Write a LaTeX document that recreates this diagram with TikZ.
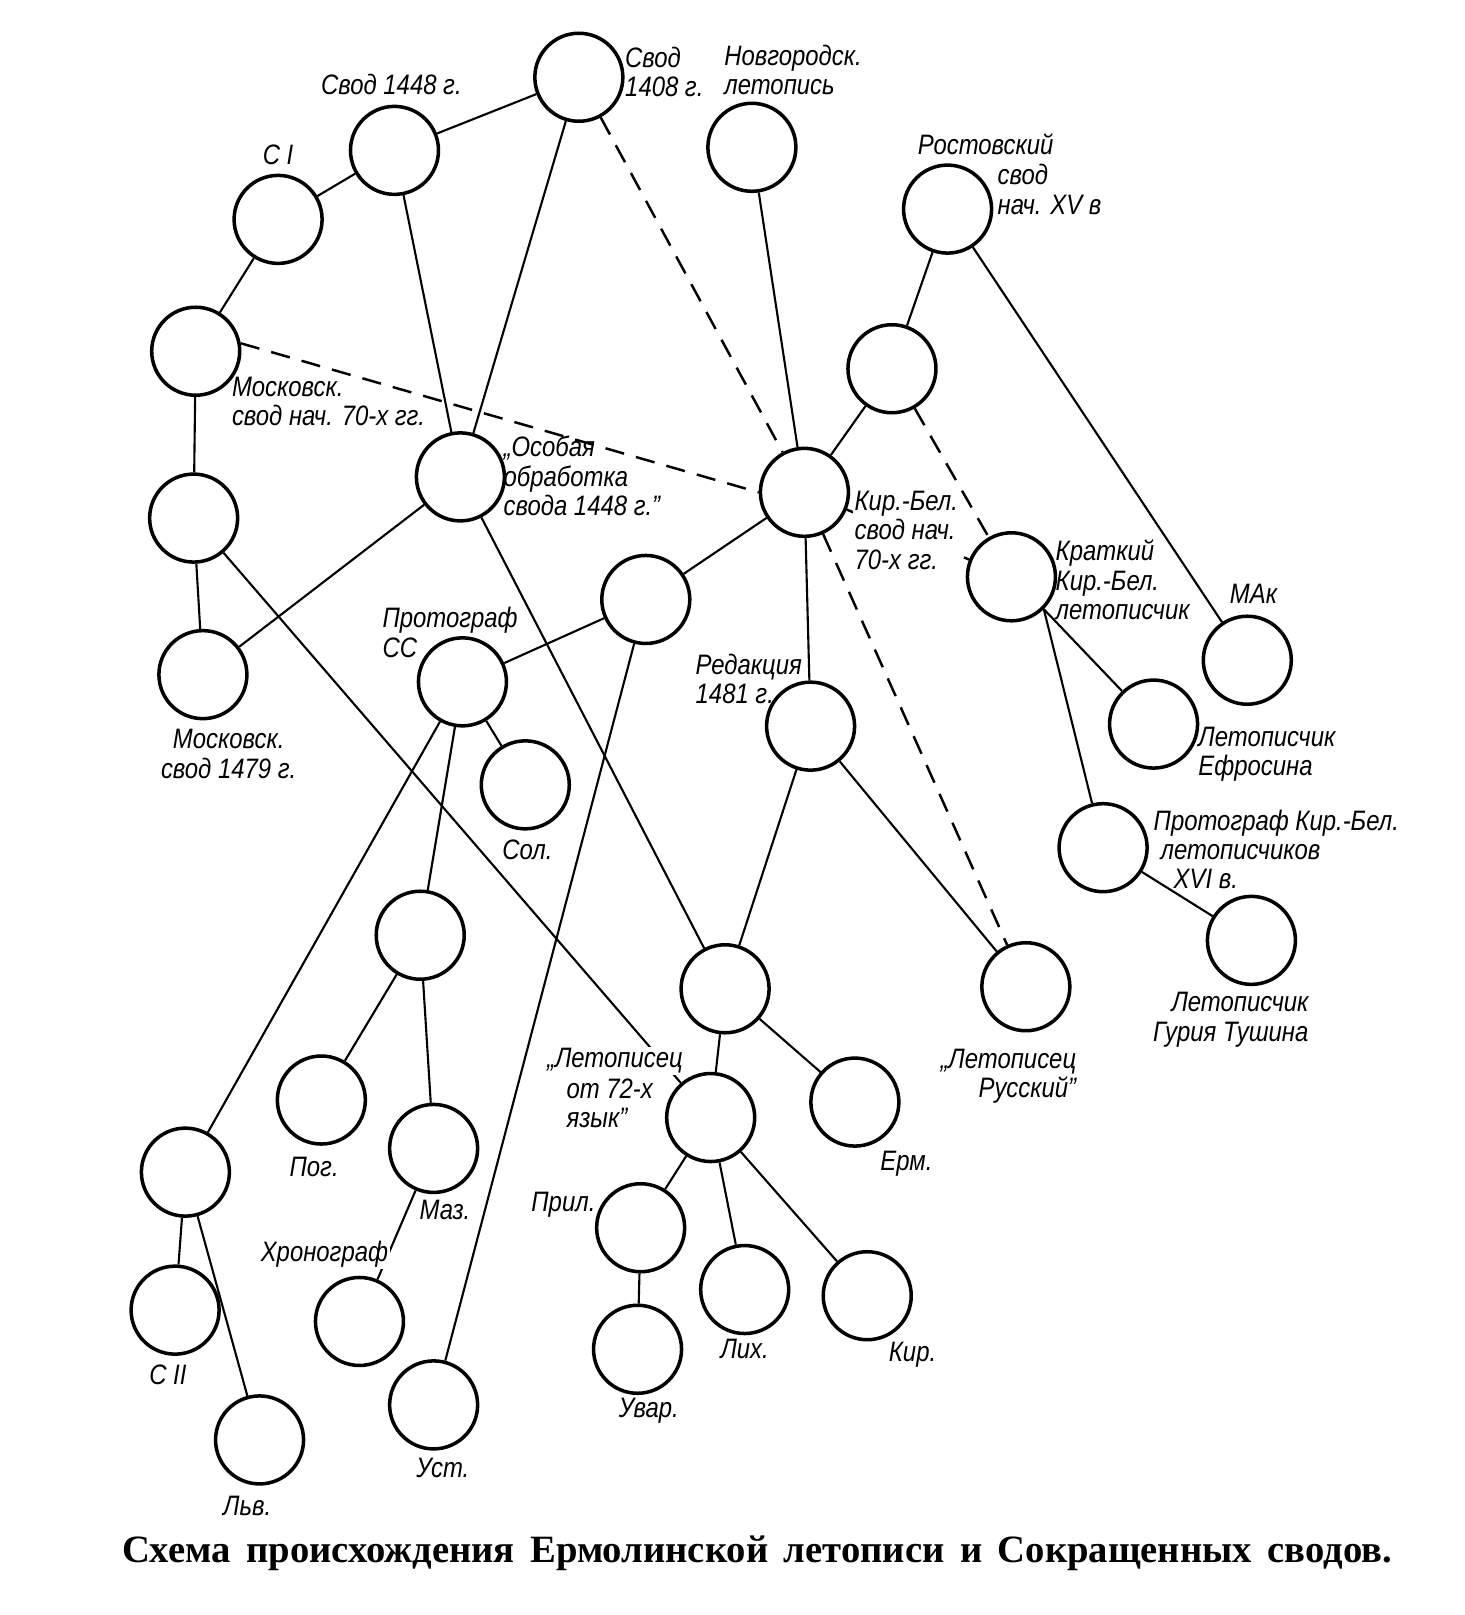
\documentclass[tikz,border=0pt]{standalone}
\usepackage{fontspec}
\setmainfont{Liberation Serif}
\newfontfamily\labfont[FakeStretch=0.85]{Liberation Sans}
\usetikzlibrary{backgrounds}

\tikzset{
    ms/.style={circle, draw, line width=1pt, minimum size=0.88cm, inner sep=0pt},
    lab/.style={font=\labfont\itshape\fontsize{8}{8.3}\selectfont, inner sep=1pt, align=left},
    cut/.style={fill=white, inner sep=0.5pt},
    ln/.style={line width=0.6pt},
    dashline/.style={line width=0.7pt, dash pattern=on 5.5pt off 3.5pt},
}

\begin{document}
\begin{tikzpicture}[x=0.0103cm, y=-0.0103cm]
    % white background
    \begin{scope}[on background layer]
        \fill [white] (0,0) rectangle (1422,1568);
    \end{scope}
    % manuscripts
    \node (s1408) [ms] at (562,75) {};
    \node (novg) [ms] at (730,143) {};
    \node (s1448) [ms] at (383,146) {};
    \node (c1) [ms] at (270,213) {};
    \node (rost) [ms] at (920,203) {};
    \node (m70) [ms] at (190,341) {};
    \node (rmid) [ms] at (866,358) {};
    \node (ma) [ms] at (188,503) {};
    \node (osob) [ms] at (447,463) {};
    \node (kb) [ms] at (781,478) {};
    \node (kr) [ms] at (982,560) {};
    \node (mid) [ms] at (627,582) {};
    \node (prot) [ms] at (449,662) {};
    \node (m79) [ms] at (197,655) {};
    \node (mak) [ms] at (1211,641) {};
    \node (red) [ms] at (787,705) {};
    \node (sol) [ms] at (510,762) {};
    \node (efr) [ms] at (1120,703) {};
    \node (pkb) [ms] at (1071,823) {};
    \node (mid2) [ms] at (408,908) {};
    \node (ep) [ms] at (704,960) {};
    \node (rus) [ms] at (996,958) {};
    \node (gur) [ms] at (1215,913) {};
    \node (pog) [ms] at (312,1068) {};
    \node (maz) [ms] at (421,1115) {};
    \node (l72) [ms] at (690,1085) {};
    \node (erm) [ms] at (830,1070) {};
    \node (cp) [ms] at (180,1138) {};
    \node (pril) [ms] at (622,1192) {};
    \node (lix) [ms] at (723,1252) {};
    \node (kir) [ms] at (842,1258) {};
    \node (xron) [ms] at (349,1283) {};
    \node (c2) [ms] at (170,1272) {};
    \node (uvar) [ms] at (619,1310) {};
    \node (ust) [ms] at (421,1364) {};
    \node (lvov) [ms] at (252,1398) {};
    % lines
    \draw[ln] (s1448) -- (s1408);
    \draw[ln] (s1408) -- (osob);
    \draw[dashline] (s1408) -- (kb);
    \draw[ln] (c1) -- (s1448);
    \draw[ln] (s1448) -- (osob);
    \draw[ln] (m70) -- (c1);
    \draw[ln] (m70) -- (ma);
    \draw[dashline] (m70.10) -- (kb.west);
    \draw[ln] (novg) -- (kb);
    \draw[ln] (rost) -- (rmid);
    \draw[ln] (rost) -- (mak);
    \draw[ln] (rmid) -- (kb);
    \draw[dashline] (rmid) -- (kr);
    \draw[dashline] (kb) -- (kr);
    \draw[ln] (kb) -- (mid);
    \draw[ln] (kb) -- (red);
    \draw[dashline] (kb) -- (rus);
    \draw[ln] (mid) -- (prot);
    \draw[ln] (mid) -- (ust);
    \draw[ln] (osob) -- (m79);
    \draw[ln] (osob) -- (ep);
    \draw[ln] (ma) -- (m79);
    \draw[ln] (ma) -- (l72);
    \draw[ln] (prot) -- (mid2);
    \draw[ln] (prot) -- (sol);
    \draw[ln] (prot) -- (cp);
    \draw[ln] (mid2) -- (pog);
    \draw[ln] (mid2) -- (maz);
    \draw[ln] (maz) -- (xron);
    \draw[ln] (red) -- (ep);
    \draw[ln] (red) -- (rus);
    \draw[ln] (ep) -- (l72);
    \draw[ln] (ep) -- (erm);
    \draw[ln] (l72) -- (pril);
    \draw[ln] (l72) -- (lix);
    \draw[ln] (l72) -- (kir);
    \draw[ln] (pril) -- (uvar);
    \draw[ln] (cp) -- (c2);
    \draw[ln] (cp) -- (lvov);
    \draw[ln] (kr.-45) -- (efr);
    \draw[ln] (kr.-45) -- (pkb);
    \draw[ln] (pkb) -- (gur);
    % labels
    \node (t1408) [lab] at (645,70) {Свод\\1408 г.};
    \node (tnovg) [lab] at (770,68) {Новгородск.\\летопись};
    \node (t1448) [lab] at (380,82) {Свод 1448 г.};
    \node (tc1) [lab] at (270,150) {С I};
    \node (trost) [lab] at (957,140) {Ростовский};
    \node (trostb) [lab] at (1019,184) {свод\\нач. XV в};
    \node (tm70) [lab] at (319,390) {Московск.\\свод нач. 70-х гг.};
    \node (tosob) [lab] at (565,462) {„Особая\\обработка\\свода 1448 г.”};
    \node (tkb) [lab, cut] at (880,515) {Кир.-Бел.\\свод нач.\\70-х гг.};
    \node (tkr) [lab] at (1090,563) {Краткий\\Кир.-Бел.\\летописчик};
    \node (tprot) [lab] at (437,614) {Протограф\\СС};
    \node (tm79) [lab, align=center] at (222,732) {Московск.\\свод 1479 г.};
    \node (tmak) [lab] at (1217,577) {МАк};
    \node (tred) [lab] at (727,659) {Редакция\\1481 г.};
    \node (tsol) [lab] at (512,825) {Сол.};
    \node (tefr) [lab] at (1230,732) {Летописчик\\Ефросина};
    \node (tpkb) [lab, anchor=north west] at (1116,782) {Протограф Кир.-Бел.\\\hspace{0.07cm}летописчиков\\\hspace{0.2cm}XVI в.};
    \node (trus) [lab, align=right] at (979,1045) {„Летописец\\Русский”};
    \node (tgur) [lab, align=right] at (1195,990) {Летописчик\\Гурия Тушина};
    \node (tpog) [lab] at (305,1133) {Пог.};
    \node (tmaz) [lab] at (432,1175) {Маз.};
    \node (t72) [lab, cut] at (597,1030) {„Летописец};
    \node (t72b) [lab] at (592,1071) {от 72-х\\язык”};
    \node (term) [lab] at (880,1130) {Ерм.};
    \node (tpril) [lab] at (547,1170) {Прил.};
    \node (txron) [lab, cut] at (315,1218) {Хронограф};
    \node (tlix) [lab] at (723,1310) {Лих.};
    \node (tkir) [lab] at (886,1315) {Кир.};
    \node (tc2) [lab] at (163,1335) {С II};
    \node (tuvar) [lab] at (630,1370) {Увар.};
    \node (tust) [lab] at (430,1425) {Уст.};
    \node (tlvov) [lab] at (240,1462) {Льв.};
    % caption
    \node (caption) [font=\bfseries\fontsize{11}{13}\selectfont, inner sep=0pt] at (735,1508)
        {\makebox[12.7cm][s]{Схема происхождения Ермолинской летописи и Сокращенных сводов.}};
\end{tikzpicture}
\end{document}
